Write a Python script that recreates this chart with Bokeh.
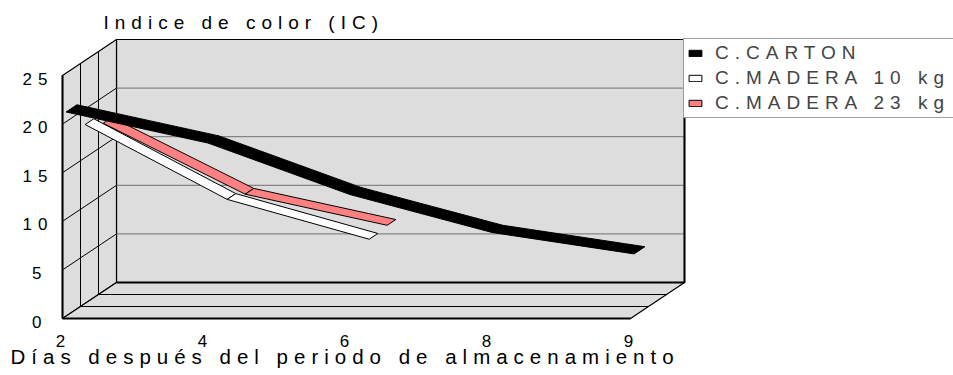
from bokeh.plotting import figure
from bokeh.models import Range1d, Legend, LegendItem, Label
from bokeh.embed import file_html
from bokeh.resources import INLINE
from bokeh.core.properties import value

# ---- data ----
categories = ["2", "4", "6", "8", "9"]
carton = [21.0, 17.8, 12.5, 8.6, 6.4]
madera10 = [18.4, 10.7, 6.6]
madera23 = [17.3, 10.0, 6.8]
y_ticks = [0, 5, 10, 15, 20, 25]
series_names = ["C.CARTON", "C.MADERA 10 kg", "C.MADERA 23 kg"]
title_text = "Indice de color (IC)"
xlabel_text = "Días después del periodo de almacenamiento"

# ---- geometry (oblique 3D projection) ----
W, H = 953, 375
PX_PER_CAT = 142.0
PX_PER_VAL = 9.72
X0 = 62.0
Y0 = 318.0
DX = 54.0 / PX_PER_CAT
DY = 36.0 / PX_PER_VAL
YMAX = y_ticks[-1]
XMAX = len(categories) - 1
NSER = 3
FONT = "Liberation Sans"
WALL = "#DDDDDD"

p = figure(width=W, height=H, output_backend="svg", toolbar_location=None,
           x_range=Range1d(-X0 / PX_PER_CAT, (W - X0) / PX_PER_CAT),
           y_range=Range1d((Y0 - H) / PX_PER_VAL, Y0 / PX_PER_VAL),
           x_axis_location=None, y_axis_location=None, min_border=0)
p.outline_line_color = None
p.grid.visible = False
p.background_fill_color = "white"
p.border_fill_color = "white"
p.styles = {"letter-spacing": "6px"}

# walls and floor
p.patches(
    [[DX, XMAX + DX, XMAX + DX, DX],
     [0, DX, DX, 0],
     [0, XMAX, XMAX + DX, DX]],
    [[DY, DY, YMAX + DY, YMAX + DY],
     [0, DY, YMAX + DY, YMAX],
     [0, 0, DY, DY]],
    fill_color=WALL, line_color="black", line_width=1.2)

inner = y_ticks[1:-1]
# back wall gridlines
p.segment(x0=[DX] * len(inner), y0=[v + DY for v in inner],
          x1=[XMAX + DX] * len(inner), y1=[v + DY for v in inner],
          line_color="#707070", line_width=1)
# side wall gridlines
p.segment(x0=[0] * len(inner), y0=inner,
          x1=[DX] * len(inner), y1=[v + DY for v in inner],
          line_color="black", line_width=1)
# depth division lines
ds = [k / NSER for k in range(1, NSER)]
p.segment(x0=[d * DX for d in ds], y0=[d * DY for d in ds],
          x1=[d * DX for d in ds], y1=[YMAX + d * DY for d in ds],
          line_color="black", line_width=1)
p.segment(x0=[d * DX for d in ds], y0=[d * DY for d in ds],
          x1=[XMAX + d * DX for d in ds], y1=[d * DY for d in ds],
          line_color="black", line_width=1)
# heavier edges
p.segment(x0=[DX, XMAX + DX, 0, 0], y0=[DY, DY, 0, 0],
          x1=[XMAX + DX, XMAX + DX, XMAX, 0], y1=[DY, YMAX + DY, 0, YMAX],
          line_color="black", line_width=2)


def ribbon(vals, slot, half):
    dc = (slot + 0.5) / NSER
    d0, d1 = dc - half, dc + half
    xs, ys = [], []
    for i in range(len(vals) - 1):
        xs.append([i + d0 * DX, i + 1 + d0 * DX, i + 1 + d1 * DX, i + d1 * DX])
        ys.append([vals[i] + d0 * DY, vals[i + 1] + d0 * DY,
                   vals[i + 1] + d1 * DY, vals[i] + d1 * DY])
    return xs, ys


xs, ys = ribbon(madera23, 2, 0.08)
r_pink = p.patches(xs, ys, fill_color="#FF8080", line_color="black", line_width=1)
xs, ys = ribbon(madera10, 1, 0.08)
r_white = p.patches(xs, ys, fill_color="white", line_color="black", line_width=1)
xs, ys = ribbon(carton, 0, 0.1)
r_black = p.patches(xs, ys, fill_color="black", line_color="black", line_width=1)

# tick labels
p.text(x=[0] * len(y_ticks), y=y_ticks, text=[str(v) for v in y_ticks],
       x_offset=-21, y_offset=3, text_align="right", text_baseline="middle",
       text_font=value(FONT), text_font_size="17px", text_color="black")
p.text(x=list(range(len(categories))), y=[0] * len(categories), text=categories,
       x_offset=-2, y_offset=22, text_align="center", text_baseline="middle",
       text_font=value(FONT), text_font_size="17px", text_color="black")

p.add_layout(Label(x=(103 - X0) / PX_PER_CAT, y=(Y0 - 22) / PX_PER_VAL, text=title_text,
                   text_font=FONT, text_font_size="19px", text_baseline="middle",
                   text_color="black"))
p.add_layout(Label(x=(10 - X0) / PX_PER_CAT, y=(Y0 - 356) / PX_PER_VAL, text=xlabel_text,
                   text_font=FONT, text_font_size="20.5px", text_baseline="middle",
                   text_color="black"))

legend = Legend(items=[LegendItem(label=series_names[0], renderers=[r_black]),
                       LegendItem(label=series_names[1], renderers=[r_white]),
                       LegendItem(label=series_names[2], renderers=[r_pink])],
                location=(683, 257), margin=0, padding=3, spacing=3,
                label_height=22, glyph_height=8, glyph_width=16, label_standoff=12,
                label_width=280, label_text_font=FONT, label_text_font_size="19px",
                border_line_color="#404040", border_line_width=1,
                background_fill_color="white", background_fill_alpha=1.0)
p.add_layout(legend, "center")

open("out.html", "w").write(file_html(p, INLINE))
